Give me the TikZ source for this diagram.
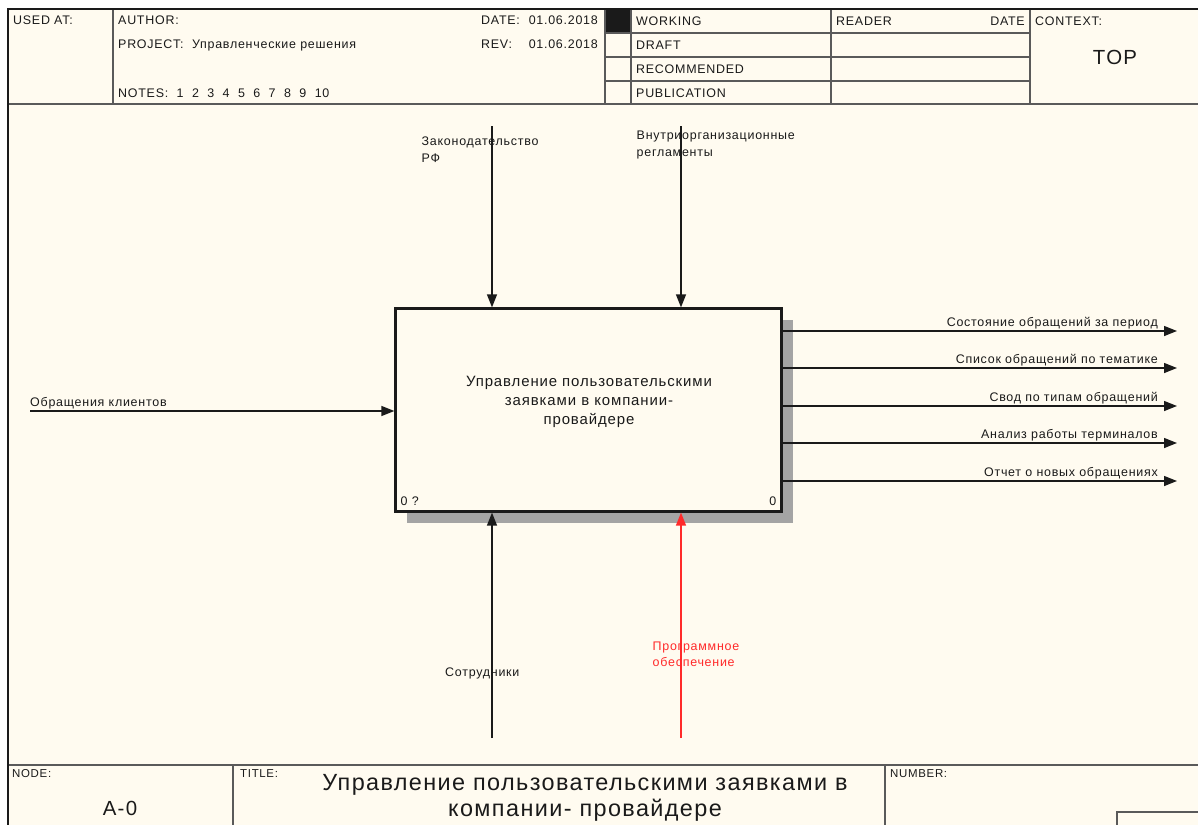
\documentclass[tikz,border=0pt]{standalone}
\usepackage{fontspec}
\setmainfont{Liberation Sans}[LetterSpace=6]
\usetikzlibrary{arrows.meta,positioning,calc,shadows}
\definecolor{paper}{HTML}{FFFBF0}
\definecolor{ink}{HTML}{1A1A1A}
\definecolor{rule}{HTML}{5A5A5A}
\definecolor{shade}{HTML}{A4A4A4}
\definecolor{mechRed}{HTML}{FF2A2A}

\begin{document}
\begin{tikzpicture}[
    x=1bp, y=-1bp,
    outerframe/.style={draw=ink, line width=2bp},
    divider/.style={draw=rule, line width=1.4bp},
    hdr/.style={inner sep=0pt, font=\fontsize{12.5}{15}\selectfont, text=ink},
    celltag/.style={inner sep=0pt, font=\fontsize{11.5}{14}\selectfont, text=ink},
    bigtext/.style={inner sep=0pt, font=\fontsize{20.5}{24}\selectfont, text=ink},
    titletext/.style={inner sep=0pt, align=center, font=\fontsize{23.5}{26}\selectfont, text=ink},
    arrlbl/.style={inner sep=0pt, align=left, font=\fontsize{12.5}{16.5}\selectfont, text=ink},
    funcbox/.style={draw=ink, fill=paper, line width=2.3bp, minimum width=386bp, minimum height=203bp, inner sep=0pt,
      drop shadow={shadow xshift=11bp, shadow yshift=-11bp, fill=shade, opacity=1}},
    boxtext/.style={inner sep=0pt, align=center, font=\fontsize{15}{19}\selectfont, text=ink},
    flow/.style={draw=ink, line width=1.4bp, -{Triangle[length=13bp, width=10bp]}},
    redflow/.style={flow, draw=mechRed, -{Triangle[length=13bp, width=10bp, fill=mechRed]}}
  ]
    \useasboundingbox (0,0) rectangle (1198,825);
    \clip (0,0) rectangle (1198,825);
    \fill[white] (0,0) rectangle (1198,825);
    \fill[paper] (8,9) rectangle (1215,840);

    % Frame and header grid
    \fill[ink] (605,9) rectangle (631,33);
    \foreach \x in {113,605,631,831,1030}
      \draw[divider] (\x,9) -- (\x,104);
    \foreach \y in {33,57,81}
      \draw[divider] (605,\y) -- (1030,\y);
    \draw[divider] (8,104) -- (1215,104);
    \draw[divider] (8,765) -- (1215,765);
    \draw[divider] (233,765) -- (233,840);
    \draw[divider] (885,765) -- (885,840);
    \draw[divider] (1117,840) -- (1117,812) -- (1215,812);
    \draw[outerframe] (8,9) rectangle (1215,840);

    % Header texts
    \node[hdr, anchor=base west] (usedat) at (13,24.5) {USED AT:};
    \node[hdr, anchor=base west] (author) at (118,24.5) {AUTHOR:};
    \node[hdr, anchor=base west] (project) at (118,48.5) {PROJECT:~~Управленческие решения};
    \node[hdr, anchor=base west] (notes) at (118,97.5) {NOTES:~~1~~2~~3~~4~~5~~6~~7~~8~~9~~10};
    \node[hdr, anchor=base west] (datetag) at (481,24.5) {DATE:};
    \node[hdr, anchor=base east] (dateval) at (598,24.5) {01.06.2018};
    \node[hdr, anchor=base west] (revtag) at (481,48.5) {REV:};
    \node[hdr, anchor=base east] (revval) at (598,48.5) {01.06.2018};
    \node[hdr, anchor=base west] (working) at (636,25.5) {WORKING};
    \node[hdr, anchor=base west] (draft) at (636,49.5) {DRAFT};
    \node[hdr, anchor=base west] (recomm) at (636,73.5) {RECOMMENDED};
    \node[hdr, anchor=base west] (public) at (636,97.5) {PUBLICATION};
    \node[hdr, anchor=base west] (reader) at (836,25.5) {READER};
    \node[hdr, anchor=base east] (readdate) at (1025,25.5) {DATE};
    \node[hdr, anchor=base west] (context) at (1035,25.5) {CONTEXT:};
    \node[bigtext] (top) at (1115,57) {TOP};

    % Footer texts
    \node[celltag, anchor=base west] (nodetag) at (12,777) {NODE:};
    \node[celltag, anchor=base west] (titletag) at (240,777) {TITLE:};
    \node[celltag, anchor=base west] (numbertag) at (890,777) {NUMBER:};
    \node[bigtext] (nodeno) at (120,808) {A-0};
    \node[titletext, anchor=north] (title) at (585,774.5) {Управление пользовательскими заявками в\\компании- провайдере};

    % Function box
    \node[funcbox] (func) at (588.5,410) {};
    \node[boxtext, anchor=north] (functext) at (589,376.5) {Управление пользовательскими\\заявками в компании-\\провайдере};
    \node[hdr, anchor=base west] (funcref) at (400.5,505) {0 ?};
    \node[hdr, anchor=base east] (funcno) at (776.5,505) {0};

    % Input
    \coordinate (inA) at (30,411);
    \node[arrlbl, anchor=base west] (inAlbl) at (30,406.5) {Обращения клиентов};
    \draw[flow] (inA) -- (inA -| func.west);

    % Controls
    \coordinate (ctrlA) at (492,126);
    \coordinate (ctrlB) at (681,126);
    \node[arrlbl, anchor=north west] (ctrlAlbl) at (421.5,137) {Законодательство\\РФ};
    \node[arrlbl, anchor=north west] (ctrlBlbl) at (636.5,131) {Внутриорганизационные\\регламенты};
    \draw[flow] (ctrlA) -- (ctrlA |- func.north);
    \draw[flow] (ctrlB) -- (ctrlB |- func.north);

    % Mechanisms
    \coordinate (mechA) at (492,738);
    \coordinate (mechB) at (681,738);
    \node[arrlbl, anchor=base west] (mechAlbl) at (445,676.5) {Сотрудники};
    \node[arrlbl, anchor=north west, text=mechRed] (mechBlbl) at (652.5,641.5) {Программное\\обеспечение};
    \draw[flow] (mechA) -- (mechA |- func.south);
    \draw[redflow] (mechB) -- (mechB |- func.south);

    % Outputs
    \coordinate (outA) at (1177,331);
    \coordinate (outB) at (1177,368);
    \coordinate (outC) at (1177,406);
    \coordinate (outD) at (1177,443);
    \coordinate (outE) at (1177,481);
    \node[arrlbl, anchor=base east] (outAlbl) at (1158,326) {Состояние обращений за период};
    \node[arrlbl, anchor=base east] (outBlbl) at (1158,363.5) {Список обращений по тематике};
    \node[arrlbl, anchor=base east] (outClbl) at (1158,401) {Свод по типам обращений};
    \node[arrlbl, anchor=base east] (outDlbl) at (1158,438.5) {Анализ работы терминалов};
    \node[arrlbl, anchor=base east] (outElbl) at (1158,476) {Отчет о новых обращениях};
    \draw[flow] (outA -| func.east) -- (outA);
    \draw[flow] (outB -| func.east) -- (outB);
    \draw[flow] (outC -| func.east) -- (outC);
    \draw[flow] (outD -| func.east) -- (outD);
    \draw[flow] (outE -| func.east) -- (outE);
\end{tikzpicture}
\end{document}
